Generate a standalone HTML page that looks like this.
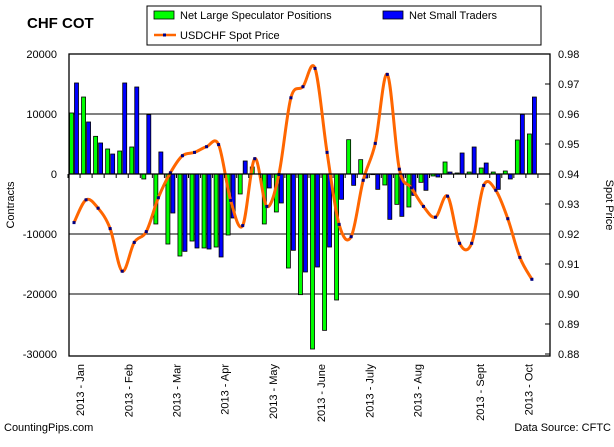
<!DOCTYPE html>
<html><head><meta charset="utf-8">
<style>
body{margin:0;background:#fff;width:614px;height:442px;overflow:hidden;font-family:"Liberation Sans",Arial,sans-serif;}
svg text{font-family:"Liberation Sans",Arial,sans-serif;}
</style></head>
<body>
<svg id="chart" width="614" height="442" xmlns="http://www.w3.org/2000/svg">
<rect x="0" y="0" width="614" height="442" fill="#fff"/>
<text x="27" y="28" font-size="15" font-weight="bold">CHF COT</text>
<g>
<rect x="147" y="6" width="394" height="39" fill="#fff" stroke="#000" stroke-width="1"/>
<g><rect x="154" y="11" width="20" height="8" fill="#00ff00" stroke="#000" stroke-width="0.8"/><text x="180" y="19" font-size="11">Net Large Speculator Positions</text></g>
<g><rect x="383" y="11" width="20" height="8" fill="#0000ff" stroke="#000" stroke-width="0.8"/><text x="409" y="19" font-size="11">Net Small Traders</text></g>
<g><line x1="154" y1="35" x2="176" y2="35" stroke="#ff6600" stroke-width="2.5"/><rect x="163" y="33.5" width="3" height="3" fill="#000080"/><text x="180" y="39" font-size="11">USDCHF Spot Price</text></g>
</g>
<g id="grid"></g>
<g id="bars"></g>
<g id="line"></g>
<g id="axes"></g>
<text transform="translate(14,205) rotate(-90)" font-size="11" text-anchor="middle">Contracts</text>
<text transform="translate(606,205) rotate(90)" font-size="11" text-anchor="middle">Spot Price</text>
<text x="4" y="431" font-size="11">CountingPips.com</text>
<text x="611" y="431" font-size="11" text-anchor="end">Data Source: CFTC</text>
</svg>
<script>
const largeSpec=[10170,12830,6280,4170,3830,4500,-830,-8330,-11670,-13670,-11170,-12330,-12170,-10170,-3330,1170,-8330,-6330,-15670,-20110,-29170,-26060,-21000,5720,2390,-110,-1830,-5060,-5500,-1390,-330,2000,170,330,1000,330,500,5670,6670];
const smallTraders=[15170,8670,5170,3330,15170,14500,9890,3670,-6500,-12890,-12330,-12500,-13830,-7330,2170,0,-2330,-4830,-12720,-16330,-15500,-12170,-4220,-1890,-670,-2560,-7560,-7060,-3560,-2720,-500,330,3500,4500,1830,-2560,-830,9940,12830];
const spotPrice=[0.9238,0.9314,0.9286,0.9218,0.9076,0.9172,0.9208,0.9321,0.9404,0.9461,0.9472,0.9491,0.9498,0.9312,0.9228,0.9451,0.9292,0.9398,0.9654,0.9691,0.9752,0.9472,0.9232,0.9191,0.9379,0.9502,0.9732,0.9416,0.9354,0.9292,0.9256,0.9326,0.9169,0.9169,0.9362,0.9346,0.9251,0.9122,0.9049];
const leftTicks=[20000,10000,0,-10000,-20000,-30000];
const rightTicks=[0.98,0.97,0.96,0.95,0.94,0.93,0.92,0.91,0.9,0.89,0.88];
const monthLabels=["2013 - Jan","2013 - Feb","2013 - Mar","2013 - Apr","2013 - May","2013 - June","2013 - July","2013 - Aug","2013 - Sept","2013 - Oct"];
const monthIdx=[1,5,9,13,17,21,25,29,34.2,38.2];

const NS="http://www.w3.org/2000/svg";
const L=69,R=550,T=54,B=356;
const X=i=>74+i*12.05;
const YL=v=>174-v*0.006;
const YR=p=>174-(p-0.94)*3000;
function mk(tag,attrs,parent){const e=document.createElementNS(NS,tag);for(const k in attrs)e.setAttribute(k,attrs[k]);parent.appendChild(e);return e;}
const grid=document.getElementById('grid'),bars=document.getElementById('bars'),line=document.getElementById('line'),axes=document.getElementById('axes');

leftTicks.forEach(v=>{
  if(v!==20000&&v!==-30000){const g=mk('line',{x1:L,x2:R,y1:YL(v),y2:YL(v),stroke:'#000','stroke-width':1},grid);
  
  }
  const t=mk('text',{x:57,y:YL(v)+4,'font-size':11,'text-anchor':'end'},axes);t.textContent=v;
  
  
});
rightTicks.forEach(p=>{
  mk('line',{x1:R-5,x2:R,y1:YR(p),y2:YR(p),stroke:'#000'},axes);
  const t=mk('text',{x:558,y:YR(p)+4,'font-size':11},axes);t.textContent=p.toFixed(2);
  
  
});
largeSpec.forEach((v,i)=>{
  const y0=YL(0),y1=YL(v);
  const r=mk('rect',{x:X(i)-4.5,y:Math.min(y0,y1),width:4,height:Math.abs(y1-y0),fill:'#00ff00',stroke:'#000','stroke-width':0.8},bars);
  
  
});
smallTraders.forEach((v,i)=>{
  const y0=YL(0),y1=YL(v);
  const r=mk('rect',{x:X(i)+0.5,y:Math.min(y0,y1),width:4,height:Math.abs(y1-y0),fill:'#0000ff',stroke:'#000','stroke-width':0.8},bars);
  
  
});
// zero axis with ticks
mk('line',{x1:L,x2:R,y1:YL(0),y2:YL(0),stroke:'#000','stroke-width':1.3},axes);
for(let i=0;i<=39;i++){mk('line',{x1:X(i)-6,x2:X(i)-6,y1:YL(0),y2:YL(0)+4,stroke:'#000'},axes);}
// spot price smooth line
const pts=spotPrice.map((p,i)=>[X(i),YR(p)]);
let d='M'+pts[0][0]+','+pts[0][1];
for(let i=0;i<pts.length-1;i++){
  const p0=pts[Math.max(0,i-1)],p1=pts[i],p2=pts[i+1],p3=pts[Math.min(pts.length-1,i+2)];
  const c1=[p1[0]+(p2[0]-p0[0])/6,p1[1]+(p2[1]-p0[1])/6],c2=[p2[0]-(p3[0]-p1[0])/6,p2[1]-(p3[1]-p1[1])/6];
  d+=' C'+c1+' '+c2+' '+p2;
}
const path=mk('path',{d:d,fill:'none',stroke:'#ff6600','stroke-width':3},line);


pts.forEach(p=>{const m=mk('rect',{x:p[0]-1.5,y:p[1]-1.5,width:3,height:3,fill:'#000080'},line);
  
  });
// frame
mk('rect',{x:L,y:T,width:R-L,height:B-T,fill:'none',stroke:'#000','stroke-width':1.3},axes);
monthLabels.forEach((s,k)=>{
  const x=X(monthIdx[k])-6+4;
  const t=mk('text',{transform:'translate('+x+',364) rotate(-90)','font-size':11,'text-anchor':'end'},axes);t.textContent=s;
  
  
});
</script>
</body></html>
